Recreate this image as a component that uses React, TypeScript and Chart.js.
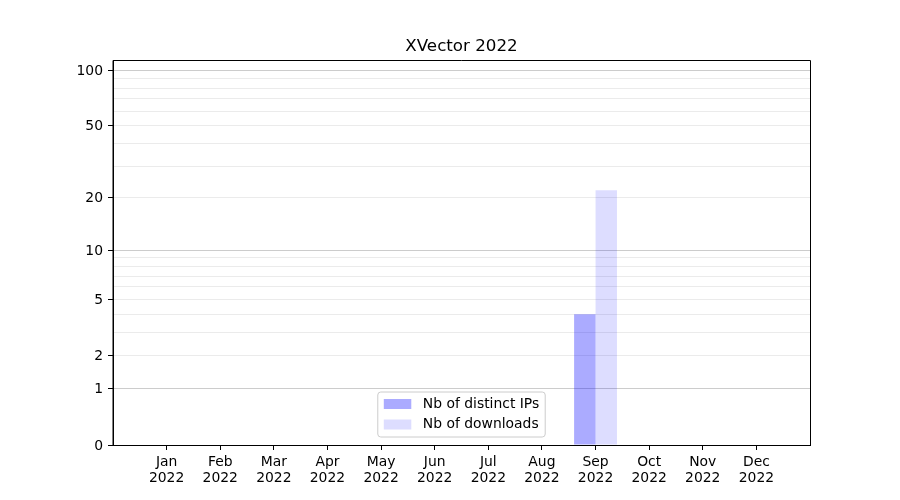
import React, { useEffect, useRef } from "react";
import { Chart, registerables, Scale } from "chart.js";

Chart.register(...registerables);

const title = "XVector 2022";
const months = ["Jan", "Feb", "Mar", "Apr", "May", "Jun", "Jul", "Aug", "Sep", "Oct", "Nov", "Dec"];
const yearLabel = "2022";
const distinctIPs = [0, 0, 0, 0, 0, 0, 0, 0, 4, 0, 0, 0];
const downloads = [0, 0, 0, 0, 0, 0, 0, 0, 22, 0, 0, 0];
const seriesNames = ["Nb of distinct IPs", "Nb of downloads"];
const yTicks = [0, 1, 2, 3, 4, 5, 6, 7, 8, 9, 10, 20, 30, 40, 50, 60, 70, 80, 90, 100];
const yLabeled = [0, 1, 2, 5, 10, 20, 50, 100];
const yMajor = [1, 10, 100];
const yMax = 113.5;

const FONT = "DejaVu Sans";
const FS = 13.9;
const colIPs = "rgba(0,0,255,0.33)";
const colDl = "rgba(0,0,255,0.135)";

class Log1pScale extends Scale {
  static id = "log1p";
  static defaults = {};
  _startValue = 0;
  _valueRange = 1;
  parse(raw: any) {
    return raw == null ? null : +raw;
  }
  determineDataLimits() {
    const { max } = this.getMinMax(true);
    this.min = this.options.min ?? 0;
    this.max = this.options.max ?? max;
  }
  buildTicks() {
    return yTicks.filter((v) => v >= this.min && v <= this.max).map((v) => ({ value: v }));
  }
  configure() {
    super.configure();
    this._startValue = Math.log10(1 + this.min);
    this._valueRange = Math.log10(1 + this.max) - this._startValue;
  }
  getLabelForValue(v: number) {
    return String(v);
  }
  getPixelForTick(i: number) {
    return this.getPixelForValue(this.ticks[i].value);
  }
  getPixelForValue(v: number) {
    return this.getPixelForDecimal((Math.log10(1 + v) - this._startValue) / this._valueRange);
  }
  getValueForPixel(p: number) {
    return Math.pow(10, this._startValue + this.getDecimalForPixel(p) * this._valueRange) - 1;
  }
}
Chart.register(Log1pScale as any);

const framePlugin = {
  id: "frameAndLegend",
  afterDraw(chart: any) {
    const { ctx, chartArea } = chart;
    const { left, right, top, bottom } = chartArea;
    ctx.save();
    // frame
    ctx.strokeStyle = "#000";
    ctx.lineWidth = 1;
    ctx.beginPath();
    ctx.moveTo(left, bottom + 0.5);
    ctx.lineTo(left, top + 0.5);
    ctx.lineTo(right + 0.5, top + 0.5);
    ctx.lineTo(right + 0.5, bottom);
    ctx.stroke();
    // title
    ctx.fillStyle = "#000";
    ctx.font = `16.7px "${FONT}"`;
    ctx.textAlign = "center";
    ctx.textBaseline = "middle";
    ctx.fillText(title, (left + right) / 2, top - 13);
    // legend
    ctx.font = `${FS}px "${FONT}"`;
    const tw = Math.max(...seriesNames.map((s) => ctx.measureText(s).width));
    const w = 6 + 28 + 11 + tw + 6;
    const h = 45;
    const bx = (left + right) / 2 - w / 2;
    const by = bottom - 8 - h;
    const r = 3;
    ctx.beginPath();
    ctx.moveTo(bx + r, by);
    ctx.lineTo(bx + w - r, by);
    ctx.arcTo(bx + w, by, bx + w, by + r, r);
    ctx.lineTo(bx + w, by + h - r);
    ctx.arcTo(bx + w, by + h, bx + w - r, by + h, r);
    ctx.lineTo(bx + r, by + h);
    ctx.arcTo(bx, by + h, bx, by + h - r, r);
    ctx.lineTo(bx, by + r);
    ctx.arcTo(bx, by, bx + r, by, r);
    ctx.closePath();
    ctx.fillStyle = "rgba(255,255,255,0.8)";
    ctx.fill();
    ctx.strokeStyle = "#cccccc";
    ctx.stroke();
    const cols = [colIPs, colDl];
    const rowsY = [by + 12, by + 32.5];
    seriesNames.forEach((name, i) => {
      ctx.fillStyle = cols[i];
      ctx.fillRect(bx + 6, rowsY[i] - 5, 27.5, 10);
      ctx.fillStyle = "#000";
      ctx.textAlign = "left";
      ctx.textBaseline = "middle";
      ctx.fillText(name, bx + 45, rowsY[i]);
    });
    ctx.restore();
  },
};

export default function App() {
  const ref = useRef<HTMLCanvasElement>(null);
  useEffect(() => {
    if (!ref.current) return;
    Chart.defaults.font.family = FONT;
    Chart.defaults.font.size = FS;
    Chart.defaults.color = "#000";
    const chart = new Chart(ref.current, {
      type: "bar",
      data: {
        datasets: [
          {
            label: seriesNames[0],
            data: distinctIPs.map((v, i) => ({ x: i, y: v })),
            backgroundColor: colIPs,
            borderWidth: 0,
            categoryPercentage: 0.8,
            barPercentage: 1.0,
          },
          {
            label: seriesNames[1],
            data: downloads.map((v, i) => ({ x: i, y: v })),
            backgroundColor: colDl,
            borderWidth: 0,
            categoryPercentage: 0.8,
            barPercentage: 1.0,
          },
        ],
      } as any,
      options: {
        animation: false,
        responsive: true,
        maintainAspectRatio: false,
        layout: { padding: { left: 0, top: 60, right: 90, bottom: 0 } },
        plugins: { legend: { display: false }, title: { display: false }, tooltip: { enabled: false } },
        scales: {
          x: {
            type: "linear",
            min: -1,
            max: 12,
            offset: false,
            afterBuildTicks: (scale: any) => {
              scale.ticks = months.map((_, i) => ({ value: i }));
            },
            afterFit: (scale: any) => {
              scale.height = 55;
            },
            grid: {
              offset: false,
              drawOnChartArea: false,
              drawTicks: true,
              tickLength: 5,
              tickColor: "#000",
              color: "#000",
            },
            border: { display: true, color: "#000", width: 1 },
            ticks: {
              autoSkip: false,
              maxRotation: 0,
              padding: 4,
              font: { family: FONT, size: FS, lineHeight: 1.17 },
              color: "#000",
              callback: (v: any) => [months[v], yearLabel],
            },
          },
          y: {
            type: "log1p" as any,
            min: 0,
            max: yMax,
            afterFit: (scale: any) => {
              scale.width = 113;
            },
            grid: {
              drawTicks: true,
              tickLength: 5,
              color: (c: any) =>
                c.tick && c.tick.value === 0
                  ? "rgba(0,0,0,0)"
                  : c.tick && yMajor.includes(c.tick.value)
                  ? "#cccccc"
                  : "#ebebeb",
              tickColor: (c: any) => (c.tick && yLabeled.includes(c.tick.value) ? "#000" : "rgba(0,0,0,0)"),
            },
            border: { display: true, color: "#000", width: 1 },
            ticks: {
              autoSkip: false,
              padding: 5,
              labelOffset: 1,
              font: { family: FONT, size: FS },
              color: "#000",
              callback: (v: any) => (yLabeled.includes(v) ? String(v) : ""),
            },
          } as any,
        },
      },
      plugins: [framePlugin],
    } as any);
    return () => chart.destroy();
  }, []);
  return (
    <div style={{ position: "fixed", left: 0, top: 0, width: 900, height: 500, background: "#fff" }}>
      <canvas ref={ref} />
    </div>
  );
}
